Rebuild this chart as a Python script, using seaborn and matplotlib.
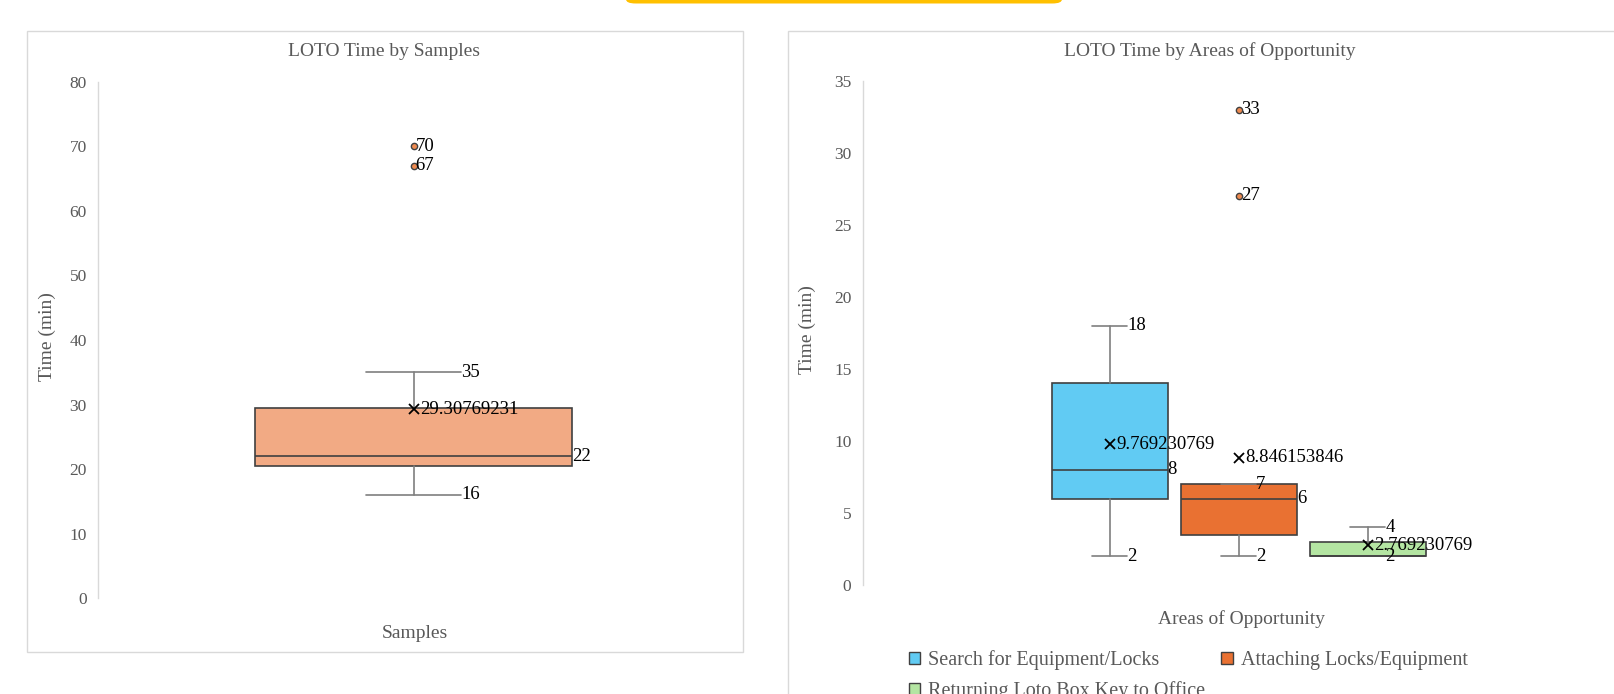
import matplotlib
matplotlib.use("Agg")
import matplotlib.pyplot as plt
import seaborn as sns
from matplotlib.patches import Rectangle, FancyBboxPatch

# ---------------- data ----------------
left_title = "LOTO Time by Samples"
left_xlabel = "Samples"
left_stats = dict(label="Samples", whislo=16, q1=20.5, med=22, q3=29.5, whishi=35,
                  mean=29.30769231, fliers=[70, 67])
left_mean_text = "29.30769231"

right_title = "LOTO Time by Areas of Opportunity"
right_xlabel = "Areas of Opportunity"
areas = ["Search for Equipment/Locks", "Attaching Locks/Equipment", "Returning Loto Box Key to Office"]
whislo = [2, 2, 2]
q1 = [6, 3.5, 2]
med = [8, 6, 2]
q3 = [14, 7, 3]
whishi = [18, 7, 4]
means = [9.769230769, 8.846153846, 2.769230769]
mean_texts = ["9.769230769", "8.846153846", "2.769230769"]
fliers = [[], [33, 27], []]
area_colors = ["#61CBF3", "#E97132", "#B4E5A2"]
left_color = "#F2AA84"

ylabel = "Time (min)"

# ---------------- style ----------------
sns.set_theme(style="white")
plt.rcParams["font.family"] = ["Liberation Serif", "DejaVu Serif"]
GRAY = "#595959"
EDGE = "#404040"
WHISK = "#7F7F7F"

W, H = 1614, 694
fig = plt.figure(figsize=(W / 100, H / 100), dpi=100)
fig.patch.set_facecolor("white")

def ax_rect(x0, x1, ytop, ybot):
    return [x0 / W, 1 - ybot / H, (x1 - x0) / W, (ybot - ytop) / H]

# panel borders + top yellow tab
fig.patches.append(Rectangle((27 / W, 1 - 652 / H), (743 - 27) / W, (652 - 31) / H,
                             transform=fig.transFigure, fill=False, ec="#D9D9D9", lw=1))
fig.patches.append(Rectangle((788 / W, -0.1), 1.0, 1 - 31 / H + 0.1,
                             transform=fig.transFigure, fill=False, ec="#D9D9D9", lw=1))
fig.patches.append(FancyBboxPatch((626 / W, 1 - 3.5 / H), (1062 - 626) / W, 0.03,
                                  boxstyle="round,pad=0,rounding_size=0.006",
                                  transform=fig.transFigure, fc="#FFC000", ec="none"))

def style_axes(ax, ymax, ystep):
    ax.set_ylim(0, ymax)
    ax.set_yticks(range(0, ymax + 1, ystep))
    ax.tick_params(axis="y", colors=GRAY, labelsize=12.5, length=0, pad=8)
    ax.set_xticks([])
    for s in ["top", "right", "bottom"]:
        ax.spines[s].set_visible(False)
    ax.spines["left"].set_color("#D9D9D9")
    ax.spines["left"].set_linewidth(1)
    ax.set_facecolor("none")
    ax.grid(False)

def draw(ax, stats, positions, widths, colors, mean_labels, med_labels):
    bp = ax.bxp(stats, positions=positions, widths=widths, patch_artist=True,
                showmeans=True, showfliers=True, whiskerprops=dict(color=WHISK, lw=1.2),
                capprops=dict(color=WHISK, lw=1.2), capwidths=[w * 0.3 for w in widths],
                medianprops=dict(color=EDGE, lw=1.2),
                meanprops=dict(marker="x", markeredgecolor="black", markersize=7.5, markeredgewidth=1.3),
                flierprops=dict(marker="o", markersize=4.5, markeredgecolor=EDGE,
                                markerfacecolor="#EE8A50", markeredgewidth=1))
    for patch, c in zip(bp["boxes"], colors):
        patch.set_facecolor(c)
        patch.set_edgecolor(EDGE)
        patch.set_linewidth(1.2)
    for st, p, w, mt, ml in zip(stats, positions, widths, mean_labels, med_labels):
        kw = dict(textcoords="offset points", va="center", ha="left", fontsize=13.5, color="black")
        cw = w * 0.3
        ax.annotate(f"{st['whishi']:g}", (p + cw / 2, st["whishi"]), xytext=(0, 0), **kw)
        ax.annotate(f"{st['whislo']:g}", (p + cw / 2, st["whislo"]), xytext=(0, 0), **kw)
        if ml:
            ax.annotate(f"{st['med']:g}", (p + w / 2, st["med"]), xytext=(0, 0), **kw)
        ax.annotate(mt, (p, st["mean"]), xytext=(4.5, 0), **kw)
        for f in st["fliers"]:
            ax.annotate(f"{f:g}", (p, f), xytext=(1.5, 0), **kw)
    ax.set_xticks([])

# ---------------- left chart ----------------
axL = fig.add_axes(ax_rect(98, 729, 81.7, 598.3))
style_axes(axL, 80, 10)
draw(axL, [left_stats], [0], [0.502], [left_color], [left_mean_text], [True])
axL.set_xlim(-0.5, 0.5)
fig.text(384 / W, 1 - 51 / H, left_title, ha="center", va="center", fontsize=14, color=GRAY)
fig.text(415 / W, 1 - 633 / H, left_xlabel, ha="center", va="center", fontsize=14, color=GRAY)
fig.text(47 / W, 1 - 337 / H, ylabel, ha="center", va="center", rotation=90, fontsize=14, color=GRAY)

# ---------------- right chart ----------------
axR = fig.add_axes(ax_rect(862.5, 1614, 80.7, 585.1))
style_axes(axR, 35, 5)
rstats = []
for i, a in enumerate(areas):
    rstats.append(dict(label=a, whislo=whislo[i], q1=q1[i], med=med[i], q3=q3[i],
                       whishi=whishi[i], mean=means[i], fliers=fliers[i]))
draw(axR, rstats, [0, 1, 2], [0.9, 0.9, 0.9], area_colors, mean_texts, [True, True, False])
axR.set_xlim(-1.916, 3.909)
fig.text(1210 / W, 1 - 51 / H, right_title, ha="center", va="center", fontsize=14, color=GRAY)
fig.text(1242 / W, 1 - 619 / H, right_xlabel, ha="center", va="center", fontsize=14, color=GRAY)
fig.text(807 / W, 1 - 330 / H, ylabel, ha="center", va="center", rotation=90, fontsize=14, color=GRAY)

handles = [Rectangle((0, 0), 1, 1, fc=c, ec=EDGE, lw=1) for c in area_colors]
order = [0, 2, 1]  # column-major fill -> row-major appearance
leg = fig.legend([handles[i] for i in order], [areas[i] for i in order], ncol=2, loc="upper left",
                 bbox_to_anchor=(899 / W, 1 - 640 / H),
                 frameon=False, fontsize=14.5, handlelength=0.55, handleheight=0.55,
                 handletextpad=0.4, columnspacing=0.8, labelspacing=0.55, borderpad=0,
                 labelcolor=GRAY)

fig.savefig("out.png", dpi=100)
